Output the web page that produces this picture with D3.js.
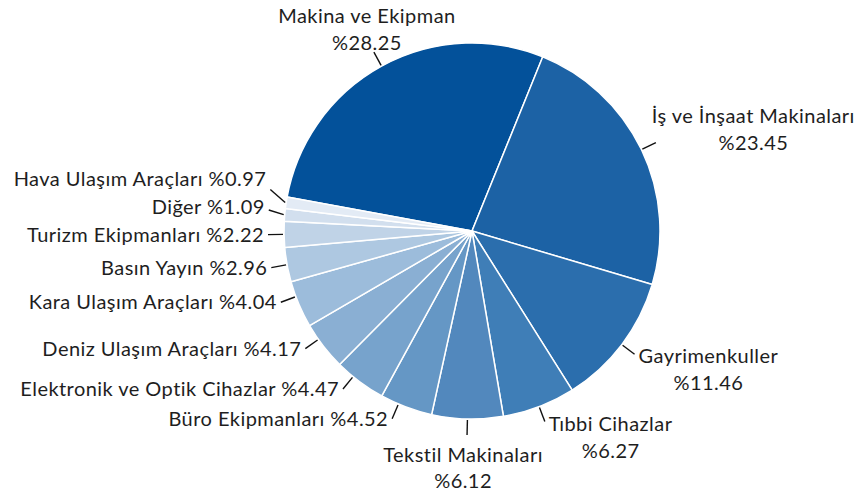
<!DOCTYPE html>
<html>
<head>
<meta charset="utf-8">
<script src="https://cdn.jsdelivr.net/npm/d3@7/dist/d3.min.js"></script>
<style>
  html, body { margin: 0; padding: 0; background: #fff; }
  svg text { font-family: Lato, "Open Sans", sans-serif; font-size: 20px; letter-spacing: 0.45px; fill: #1e1e1e; }
</style>
</head>
<body>
<svg id="chart" width="858" height="496"></svg>
<script>
const categories = [
  "Makina ve Ekipman", "İş ve İnşaat Makinaları", "Gayrimenkuller", "Tıbbi Cihazlar",
  "Tekstil Makinaları", "Büro Ekipmanları", "Elektronik ve Optik Cihazlar",
  "Deniz Ulaşım Araçları", "Kara Ulaşım Araçları", "Basın Yayın",
  "Turizm Ekipmanları", "Diğer", "Hava Ulaşım Araçları"
];
const values = [28.25, 23.45, 11.46, 6.27, 6.12, 4.52, 4.47, 4.17, 4.04, 2.96, 2.22, 1.09, 0.97];
const colors = [
  "#03519a", "#1c62a5", "#2b6ead", "#3f7eb7", "#5288bd", "#6597c5", "#77a3cc",
  "#8aafd3", "#9cbcdb", "#aec8e1", "#c0d3e7", "#d2dfee", "#e3ebf5"
];

const W = 858, H = 496;
const cx = 472, cy = 231, R = 188;
const startDeg = -79.6;

const svg = d3.select("#chart");
const g = svg.append("g").attr("transform", `translate(${cx},${cy})`);

const data = categories.map((c, i) => ({ name: c, value: values[i], color: colors[i] }));
const pie = d3.pie().sort(null).value(d => d.value)
  .startAngle(startDeg * Math.PI / 180)
  .endAngle(startDeg * Math.PI / 180 + 2 * Math.PI);
const arcs = pie(data);
const arc = d3.arc().innerRadius(0).outerRadius(R);

g.selectAll("path.slice").data(arcs).join("path")
  .attr("class", "slice")
  .attr("d", arc)
  .attr("fill", d => d.data.color)
  .attr("stroke", "#fff")
  .attr("stroke-width", 1.5)
  .attr("stroke-linejoin", "round");

const pt = (a, r) => [r * Math.sin(a), -r * Math.cos(a)];
const fmt = v => "%" + v.toFixed(2);

// label layout
const labels = arcs.map(d => {
  let a = (d.startAngle + d.endAngle) / 2;
  const s = Math.sin(a), c = Math.cos(a);
  let kind;
  if (c > 0.8) kind = "top";
  else if (c < -0.95) kind = "bottom";
  else if (s < 0) kind = "left";
  else kind = "right";
  // lower-left labels lean slightly away from the bottom label
  if (kind === "left" && c < -0.3) a += 2.5 * Math.PI / 180;
  const start = pt(a, R + 1);
  const end = pt(a, R + 16);
  return { d, a, kind, start, end, y: end[1] };
});

// relax left-side labels vertically (min spacing)
const left = labels.filter(l => l.kind === "left").sort((p, q) => q.end[1] - p.end[1]);
const gap = 28;
for (let i = 0; i < left.length; i++) {
  if (i === 0) { left[i].y = left[i].end[1]; continue; }
  left[i].y = Math.min(left[i].end[1], left[i - 1].y - gap);
}

const lg = g.append("g");
labels.forEach(l => {
  let lineEnd = l.end.slice();
  if (l.kind === "left") lineEnd = [l.end[0], (l.end[1] + l.y) / 2];
  lg.append("line")
    .attr("x1", l.start[0]).attr("y1", l.start[1])
    .attr("x2", lineEnd[0]).attr("y2", lineEnd[1])
    .attr("stroke", "#111").attr("stroke-width", 1.4);

  const name = l.d.data.name, val = fmt(l.d.data.value);
  if (l.kind === "left") {
    lg.append("text")
      .attr("x", l.end[0] - 4).attr("y", l.y)
      .attr("text-anchor", "end").attr("dy", "0.35em")
      .text(name + " " + val);
  } else if (l.kind === "top") {
    const t = lg.append("text").attr("text-anchor", "middle");
    t.append("tspan").attr("x", l.end[0] - 7).attr("y", l.end[1] - 36).attr("dy", "0.35em").text(name);
    t.append("tspan").attr("x", l.end[0] - 7).attr("y", l.end[1] - 9).attr("dy", "0.35em").text(val);
  } else if (l.kind === "bottom") {
    const t = lg.append("text").attr("text-anchor", "middle");
    t.append("tspan").attr("x", l.end[0] - 4).attr("y", l.end[1] + 20).attr("dy", "0.35em").text(name);
    t.append("tspan").attr("x", l.end[0] - 4).attr("y", l.end[1] + 46).attr("dy", "0.35em").text(val);
  } else {
    // right side: block left-aligned at end, lines centered in block
    const t = lg.append("text").attr("text-anchor", "middle");
    const t1 = t.append("tspan").text(name);
    const w = t1.node().getComputedTextLength();
    const upper = Math.cos(l.a) > 0;
    const bx = l.end[0] + (upper ? -4 : 4) + w / 2;
    const y1 = upper ? l.end[1] - 27 : l.end[1] + 2;
    t1.attr("x", bx).attr("y", y1).attr("dy", "0.35em");
    t.append("tspan").attr("x", bx).attr("y", y1 + 27).attr("dy", "0.35em").text(val);
  }
});
</script>
</body>
</html>
